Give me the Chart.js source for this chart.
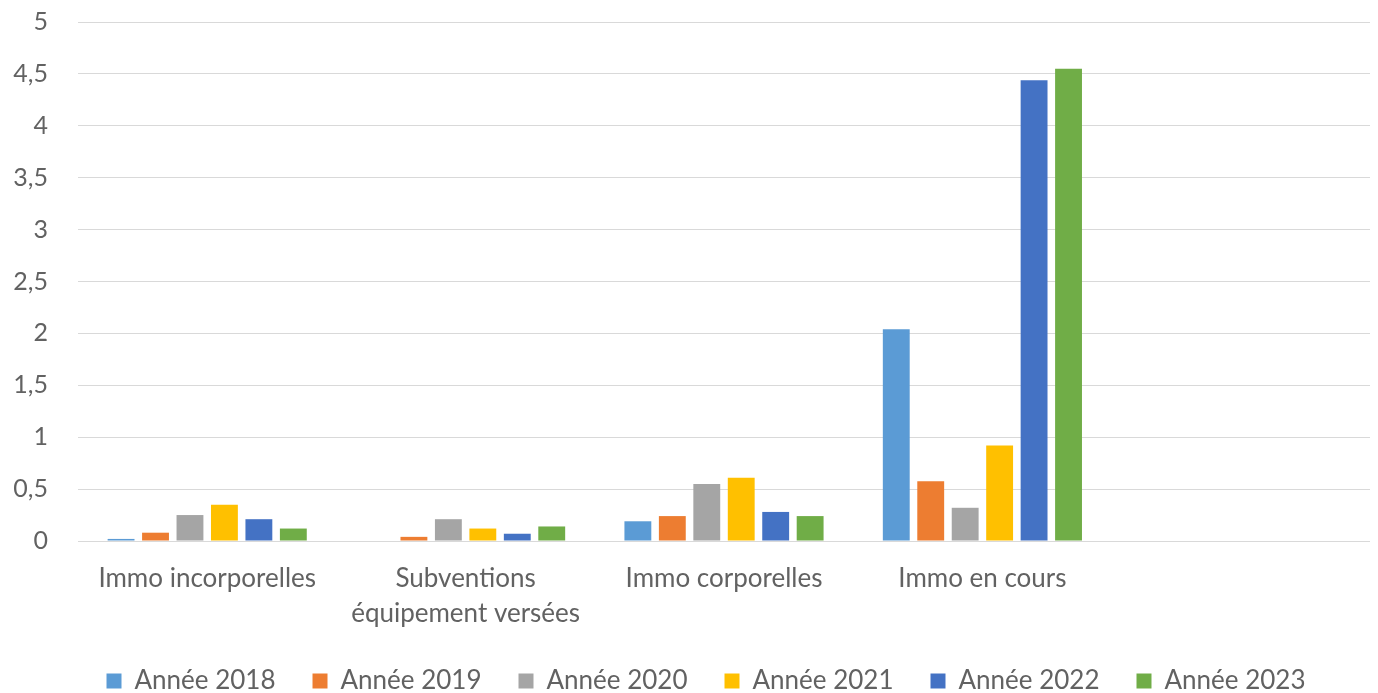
<!DOCTYPE html>
<html>
<head>
<meta charset="utf-8">
<script src="https://cdn.jsdelivr.net/npm/chart.js@4/dist/chart.umd.min.js"></script>
<style>
  html, body { margin: 0; padding: 0; background: #fff; }
  #box { width: 1378px; height: 693px; }
</style>
</head>
<body>
<div id="box"><canvas id="graf"></canvas></div>
<script>
// catégories (la 5e est vide, comme dans le graphique Excel)
const categories = [
    "Immo incorporelles",
    ["Subventions", "équipement versées"],
    "Immo corporelles",
    "Immo en cours",
    ""
];

const annees = ["Année 2018", "Année 2019", "Année 2020", "Année 2021", "Année 2022", "Année 2023"];

const valeurs2018 = [0.02, 0, 0.19, 2.04, null];
const valeurs2019 = [0.08, 0.04, 0.24, 0.575, null];
const valeurs2020 = [0.25, 0.21, 0.55, 0.32, null];
const valeurs2021 = [0.35, 0.12, 0.61, 0.92, null];
const valeurs2022 = [0.21, 0.07, 0.28, 4.44, null];
const valeurs2023 = [0.12, 0.14, 0.24, 4.55, null];

const couleurs = ["#5B9BD5", "#ED7D31", "#A5A5A5", "#FFC000", "#4472C4", "#70AD47"];

const series = [valeurs2018, valeurs2019, valeurs2020, valeurs2021, valeurs2022, valeurs2023];

const police = "Lato, 'Open Sans', sans-serif";
const gris = "#626262";

// la légende garde un grand espacement horizontal sans prendre autant de hauteur,
// et elle est un peu décalée vers la droite comme dans l'original
const legendeCompacte = {
    id: "legendeCompacte",
    beforeInit(chart) {
        const fitOrig = chart.legend.fit;
        chart.legend.fit = function () {
            fitOrig.call(this);
            this.height = 62;
        };
        const drawOrig = chart.legend.draw;
        chart.legend.draw = function (...args) {
            this.ctx.save();
            this.ctx.translate(15, 0);
            drawOrig.apply(this, args);
            this.ctx.restore();
        };
    }
};

new Chart(document.getElementById("graf"), {
    type: "bar",
    data: {
        labels: categories,
        datasets: series.map((vals, i) => ({
            label: annees[i],
            data: vals,
            backgroundColor: couleurs[i],
            borderWidth: 0,
            categoryPercentage: 0.8,
            barPercentage: 0.78
        }))
    },
    options: {
        responsive: true,
        maintainAspectRatio: false,
        animation: false,
        layout: { padding: { top: 22, right: 8, left: 12, bottom: 0 } },
        scales: {
            x: {
                grid: { display: false, drawTicks: false },
                border: { display: false },
                ticks: {
                    color: gris,
                    font: { family: police, size: 26, lineHeight: 1.35 },
                    padding: 20,
                    maxRotation: 0
                },
                afterFit: scale => {
                    scale.height = 90;
                    scale.paddingLeft = 0;
                    scale.paddingRight = 0;
                }
            },
            y: {
                min: 0,
                max: 5,
                ticks: {
                    stepSize: 0.5,
                    color: gris,
                    font: { family: police, size: 25 },
                    padding: 30,
                    callback: v => String(v).replace(".", ",")
                },
                grid: { color: "#D9D9D9", lineWidth: 1, drawTicks: false },
                border: { display: false },
                // le padding des ticks ne doit pas pousser la zone du graphique vers le bas
                afterFit: scale => {
                    scale.width = 66;
                    scale.paddingTop = 0;
                    scale.paddingBottom = 0;
                }
            }
        },
        plugins: {
            legend: {
                position: "bottom",
                labels: {
                    color: gris,
                    font: { family: police, size: 26 },
                    boxWidth: 15,
                    boxHeight: 15,
                    padding: 37
                }
            },
            tooltip: { enabled: false }
        }
    },
    plugins: [legendeCompacte]
});
</script>
</body>
</html>
